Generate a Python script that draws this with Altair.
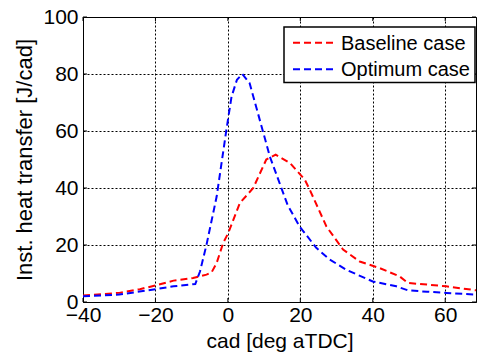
import altair as alt
import pandas as pd

# Baseline case (red)
base_x = [-40, -30, -24.3, -20, -15, -9.6, -5.9, -4.5, -3.1, -1.3, 0.1, 3.3, 7, 10.6, 13.2,
          17.1, 21.2, 22.6, 27.2, 31.8, 36.4, 41.9, 47.4, 49.7, 60.3, 68.5]
base_y = [2.3, 3.2, 4.5, 5.8, 7.5, 8.4, 9.6, 10.4, 13.7, 20.7, 24.2, 34.7, 40, 50, 51.7,
          48.8, 43, 39.4, 26.5, 18.4, 14.2, 11.9, 9, 6.7, 5.5, 4.1]

# Optimum case (blue)
opt_x = [-40, -30, -20, -15, -9, -7.7, -5.9, -3.1, -0.4, 1, 2.5, 4, 6, 9.3, 11.6, 13.9,
         16.5, 19.8, 24.4, 28, 32.7, 40, 46.5, 49.7, 55, 60.3, 68.5]
opt_y = [2.0, 2.6, 4.5, 5.5, 6.3, 10.7, 20.1, 37, 60.5, 72, 78, 80, 76.8, 61.6, 51, 43,
         34, 26.5, 19, 15, 11.3, 7.2, 5.5, 4.1, 3.6, 3.2, 2.6]

series_names = ["Baseline case", "Optimum case"]
series_colors = ["#ff0000", "#0000ff"]
x_ticks = [-40, -20, 0, 20, 40, 60]
y_ticks = [0, 20, 40, 60, 80, 100]

df = pd.concat([
    pd.DataFrame({"cad": base_x, "q": base_y, "case": series_names[0], "order": range(len(base_x))}),
    pd.DataFrame({"cad": opt_x, "q": opt_y, "case": series_names[1], "order": range(len(opt_x))}),
])

FONT = "Liberation Sans"
W, H = 393, 285
XD = [-40, 68.5]
DASH = [7, 4]

xscale = alt.Scale(domain=XD, nice=False, zero=False)
yscale = alt.Scale(domain=[0, 100], nice=False)
cscale = alt.Scale(domain=series_names, range=series_colors)

lines = alt.Chart(df).mark_line(strokeDash=DASH, strokeWidth=2, clip=True).encode(
    x=alt.X("cad:Q", scale=xscale,
            axis=alt.Axis(values=x_ticks, title="cad [deg aTDC]", labelFontSize=21,
                          titleFontSize=21, titleFontWeight="normal", labelPadding=2,
                          titlePadding=5, labelFlush=False, labelOverlap=False)),
    y=alt.Y("q:Q", scale=yscale,
            axis=alt.Axis(values=y_ticks, title="Inst. heat transfer [J/cad]", labelFontSize=21,
                          titleFontSize=22, titleFontWeight="normal", labelPadding=5,
                          titlePadding=6, labelFlush=False, labelOverlap=False)),
    color=alt.Color("case:N", scale=cscale, legend=None),
    order="order:Q",
)

xt = pd.DataFrame({"v": x_ticks})
yt = pd.DataFrame({"v": y_ticks})
xtick_bot = alt.Chart(xt).mark_rule(color="black", strokeWidth=1).encode(
    x=alt.X("v:Q", scale=xscale), y=alt.value(H), y2=alt.value(H - 4))
xtick_top = alt.Chart(xt).mark_rule(color="black", strokeWidth=1).encode(
    x=alt.X("v:Q", scale=xscale), y=alt.value(0), y2=alt.value(4))
ytick_l = alt.Chart(yt).mark_rule(color="black", strokeWidth=1).encode(
    y=alt.Y("v:Q", scale=yscale), x=alt.value(0), x2=alt.value(4))
ytick_r = alt.Chart(yt).mark_rule(color="black", strokeWidth=1).encode(
    y=alt.Y("v:Q", scale=yscale), x=alt.value(W), x2=alt.value(W - 4))

# legend box
leg_df = pd.DataFrame({"case": series_names})
leg_box = alt.Chart(leg_df.head(1)).mark_rect(fill="white", stroke="black", strokeWidth=1.5).encode(
    x=alt.value(201), x2=alt.value(392), y=alt.value(10), y2=alt.value(65.5))
row_y = [25.7, 52.3]
leg_layers = [leg_box]
for i, name in enumerate(series_names):
    d = pd.DataFrame({"case": [name]})
    leg_layers.append(alt.Chart(d).mark_rule(strokeDash=DASH, strokeWidth=2).encode(
        x=alt.value(210), x2=alt.value(252), y=alt.value(row_y[i]),
        color=alt.Color("case:N", scale=cscale, legend=None)))
    leg_layers.append(alt.Chart(d).mark_text(align="left", baseline="middle", fontSize=20,
                                            font=FONT, color="black").encode(
        x=alt.value(258), y=alt.value(row_y[i] + 1), text="case:N"))

chart = alt.layer(xtick_bot, xtick_top, ytick_l, ytick_r, lines, *leg_layers).properties(
    width=W, height=H,
    padding={"left": 83, "top": 17, "right": 1, "bottom": 58},
    autosize=alt.AutoSizeParams(type="none"),
    background="white",
).configure_view(stroke="black", strokeWidth=1).configure_axis(
    domain=False, tickSize=0, grid=True, gridColor="black", gridDash=[2, 2], gridOpacity=1,
    gridWidth=1, labelFont=FONT, titleFont=FONT, labelColor="black", titleColor="black",
)

chart.save("out.html", embed_options={"renderer": "svg", "actions": False})
